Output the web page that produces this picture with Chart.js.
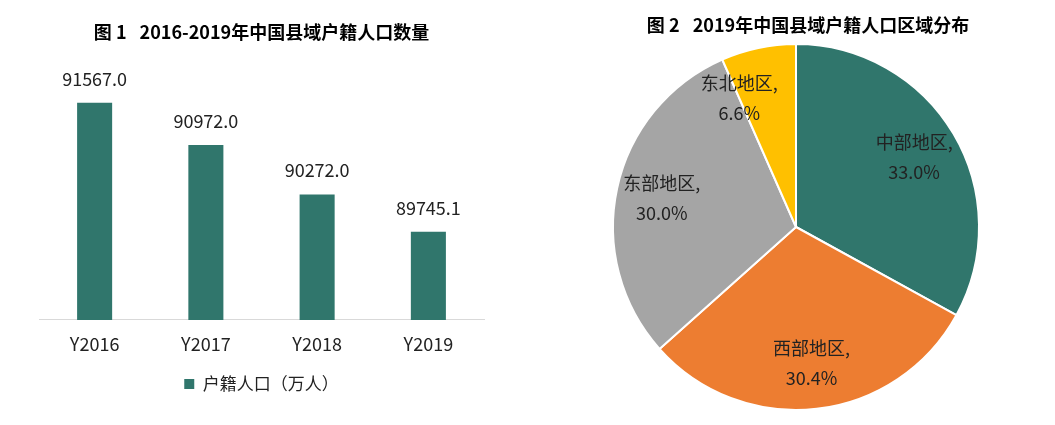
<!DOCTYPE html>
<html><head><meta charset="utf-8">
<script src="https://cdn.jsdelivr.net/npm/chart.js@4.4.0/dist/chart.umd.min.js"></script>
<style>
html,body{margin:0;padding:0;background:#fff;width:1055px;height:425px;overflow:hidden}
#c1{position:absolute;left:0;top:0}
#c2{position:absolute;left:560px;top:0}
</style></head><body>
<canvas id="c1" width="530" height="425"></canvas>
<canvas id="c2" width="495" height="425"></canvas>
<script>
// ---- data ----
const barTitle = '图 1 \u20022016-2019年中国县域户籍人口数量';
const barCategories = ['Y2016', 'Y2017', 'Y2018', 'Y2019'];
const barSeriesName = '户籍人口（万人）';
const barValues = [91567.0, 90972.0, 90272.0, 89745.1];
const barAxisMin = 88500;
const barAxisMax = 92000;

const pieTitle = '图 2 \u20022019年中国县域户籍人口区域分布';
const pieRegions = ['中部地区', '西部地区', '东部地区', '东北地区'];
const pieShares = [33.0, 30.4, 30.0, 6.6];

// ---- styles ----
const FONT = '"Noto Sans CJK SC", "Noto Sans", sans-serif';
const TEXT = '#222222';
Chart.defaults.font.family = FONT;
Chart.defaults.color = TEXT;

const barLabelPlugin = {
  id: 'barLabels',
  afterDatasetsDraw(chart) {
    const ctx = chart.ctx;
    const meta = chart.getDatasetMeta(0);
    ctx.save();
    ctx.font = '18px ' + FONT;
    ctx.fillStyle = TEXT;
    ctx.textAlign = 'center';
    ctx.textBaseline = 'middle';
    meta.data.forEach((bar, i) => {
      ctx.fillText(barValues[i].toFixed(1), bar.x, bar.y - 24);
    });
    ctx.restore();
  }
};

new Chart(document.getElementById('c1'), {
  type: 'bar',
  data: {
    labels: barCategories,
    datasets: [{
      label: barSeriesName,
      data: barValues,
      backgroundColor: '#30766C',
      barPercentage: 0.315,
      categoryPercentage: 1.0
    }]
  },
  options: {
    responsive: false,
    animation: false,
    layout: { padding: { left: 39, right: 46, top: 0, bottom: 22.5 } },
    scales: {
      x: {
        grid: { display: false, drawTicks: false },
        border: { display: true, color: '#D9D9D9', width: 1 },
        ticks: { font: { size: 18 }, color: TEXT, padding: 13 }
      },
      y: { display: false, min: barAxisMin, max: barAxisMax }
    },
    plugins: {
      title: {
        display: true, text: barTitle, color: '#000',
        font: { size: 18, weight: 'bold' },
        padding: { top: 21, bottom: 29.5 }
      },
      legend: {
        display: true, position: 'bottom',
        labels: { boxWidth: 10, boxHeight: 10, font: { size: 17 }, color: TEXT, padding: 8 }
      },
      tooltip: { enabled: false }
    }
  },
  plugins: [barLabelPlugin]
});

const pieLabelPlugin = {
  id: 'pieLabels',
  afterDatasetsDraw(chart) {
    const ctx = chart.ctx;
    const meta = chart.getDatasetMeta(0);
    ctx.save();
    ctx.font = '18px ' + FONT;
    ctx.fillStyle = TEXT;
    ctx.textAlign = 'center';
    ctx.textBaseline = 'middle';
    meta.data.forEach((arc, i) => {
      const p = arc.getProps(['x', 'y', 'startAngle', 'endAngle', 'outerRadius'], true);
      // narrow slices: label sits on the leading edge (best-fit style)
      const narrow = (p.endAngle - p.startAngle) < Math.PI / 5;
      const ang = narrow ? p.startAngle : (p.startAngle + p.endAngle) / 2;
      const r = p.outerRadius * (narrow ? 0.77 : 0.75);
      const cx = p.x + Math.cos(ang) * r;
      const cy = p.y + Math.sin(ang) * r;
      ctx.fillText(pieRegions[i] + ',', cx, cy - 15);
      ctx.fillText(pieShares[i].toFixed(1) + '%', cx, cy + 15);
    });
    ctx.restore();
  }
};
const pieTitlePlugin = {
  id: 'pieTitle',
  afterDraw(chart) {
    const ctx = chart.ctx;
    ctx.save();
    ctx.font = 'bold 18px ' + FONT;
    ctx.fillStyle = '#000';
    ctx.textAlign = 'center';
    ctx.textBaseline = 'middle';
    ctx.fillText(pieTitle, 248, 25);
    ctx.restore();
  }
};

new Chart(document.getElementById('c2'), {
  type: 'pie',
  data: {
    labels: pieRegions,
    datasets: [{
      data: pieShares,
      backgroundColor: ['#30766C', '#ED7D31', '#A5A5A5', '#FFC000'],
      borderColor: '#FFFFFF',
      borderWidth: 2
    }]
  },
  options: {
    responsive: false,
    animation: false,
    layout: { padding: { left: 52, right: 75, top: 43, bottom: 14 } },
    plugins: {
      legend: { display: false },
      title: { display: false },
      tooltip: { enabled: false }
    }
  },
  plugins: [pieLabelPlugin, pieTitlePlugin]
});
</script>
</body></html>
